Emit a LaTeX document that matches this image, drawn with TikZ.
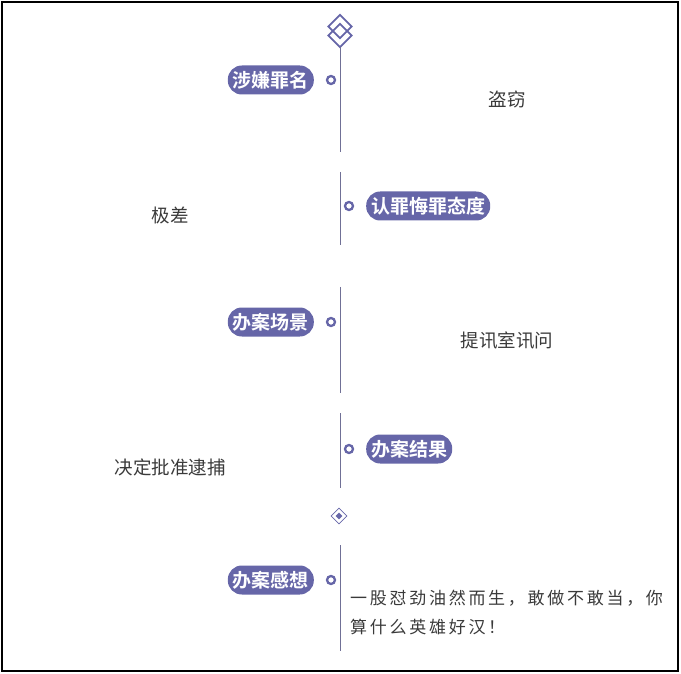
\documentclass[tikz,border=0pt]{standalone}
\usepackage{fontspec}
\usepackage{xcolor}
\usepackage{tikz}
\usetikzlibrary{positioning,shapes.geometric}
\newfontfamily\cjk{Noto Sans CJK SC}
\newfontfamily\cjkbold{Noto Sans CJK SC Bold}
\newfontfamily\cjkwide[LetterSpace=16]{Noto Sans CJK SC}
\definecolor{pillblue}{RGB}{102,102,168}
\definecolor{linegray}{RGB}{112,112,150}
\definecolor{txtgray}{RGB}{58,58,58}

\begin{document}
\begin{tikzpicture}[
  x=1pt, y=-1pt,
  pill/.style={fill=pillblue, rounded corners=14pt, minimum height=29pt, inner xsep=5pt, inner ysep=0pt, text=white, font=\cjkbold\fontsize{19}{19}\selectfont},
  dot/.style={circle, draw=pillblue, line width=2.3pt, fill=white, inner sep=0pt, minimum size=8pt},
  info/.style={font=\cjk\fontsize{18.5}{18.5}\selectfont, text=txtgray, inner sep=0pt},
  stem/.style={draw=linegray, line width=0.9pt},
  topmark/.style={diamond, draw=pillblue, line width=1.8pt, inner sep=0pt, minimum size=24pt}
]
\useasboundingbox (0,0) rectangle (681,674);
\draw[line width=2pt] (2,2) rectangle (678,671);

% top marker
\node[topmark] (top1) at (340,26.5) {};
\node[topmark] (top2) at (340,35.5) {};

% stems
\coordinate (s1a) at (340,47);  \coordinate (s1b) at (340,152);
\coordinate (s2a) at (340,172); \coordinate (s2b) at (340,245);
\coordinate (s3a) at (340,287); \coordinate (s3b) at (340,393);
\coordinate (s4a) at (340,413); \coordinate (s4b) at (340,488);
\coordinate (s5a) at (340,545); \coordinate (s5b) at (340,651);
\draw[stem] (s1a) -- (s1b);
\draw[stem] (s2a) -- (s2b);
\draw[stem] (s3a) -- (s3b);
\draw[stem] (s4a) -- (s4b);
\draw[stem] (s5a) -- (s5b);

% entries
\node[dot] (d1) at (331,80) {};
\node[pill, anchor=east] (crime) at (314,80) {涉嫌罪名};
\node[info] (theft) at (507,99) {盗窃};

\node[dot] (d2) at (349,206) {};
\node[pill, anchor=west] (attitude) at (366,206) {认罪悔罪态度};
\node[info] (poor) at (170,215) {极差};

\node[dot] (d3) at (331,322) {};
\node[pill, anchor=east] (scene) at (314,322) {办案场景};
\node[info] (room) at (507,341) {提讯室讯问};

\node[dot] (d4) at (349,449) {};
\node[pill, anchor=west] (result) at (366,449) {办案结果};
\node[info] (arrest) at (170,467) {决定批准逮捕};

% small marker
\node[diamond, draw=pillblue, line width=0.8pt, inner sep=0pt, minimum size=16pt] (mid) at (339,516) {};
\node[diamond, fill=pillblue, inner sep=0pt, minimum size=7pt] (midc) at (339,516) {};

\node[dot] (d5) at (331,580) {};
\node[pill, anchor=east] (thought) at (314,580) {办案感想};
\node[info, anchor=north west, align=left, font=\cjkwide\fontsize{17}{29}\selectfont] (words) at (350,590)
  {一股怼劲油然而生，敢做不敢当，你\\算什么英雄好汉！};
\end{tikzpicture}
\end{document}
